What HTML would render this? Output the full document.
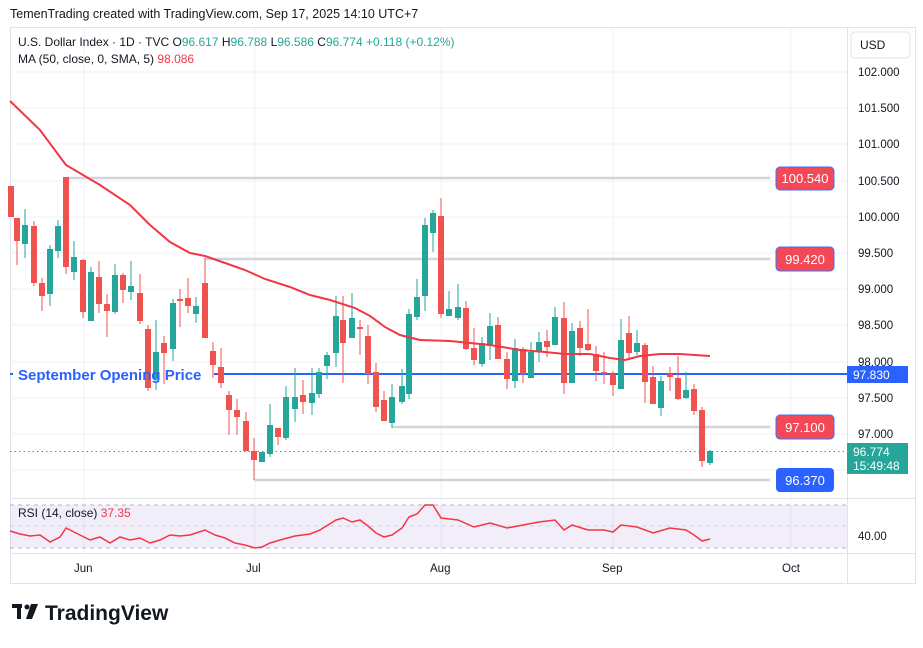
<!DOCTYPE html>
<html><head><meta charset="utf-8"><style>
body{margin:0;background:#fff;width:923px;height:643px;overflow:hidden;font-family:"Liberation Sans",sans-serif}
</style></head><body>
<svg width="923" height="643" xmlns="http://www.w3.org/2000/svg" font-family="Liberation Sans, sans-serif">
<text x="10" y="18" font-size="12.5" fill="#131722">TemenTrading created with TradingView.com, Sep 17, 2025 14:10 UTC+7</text>
<rect x="10.5" y="27.5" width="905" height="556" fill="none" stroke="#e0e3eb"/>
<line x1="847.5" y1="27" x2="847.5" y2="583" stroke="#e0e3eb"/>
<line x1="10" y1="498.5" x2="915" y2="498.5" stroke="#e0e3eb"/>
<line x1="10" y1="553.5" x2="915" y2="553.5" stroke="#e0e3eb"/>
<g stroke="#f0f2f5">
<line x1="10" x2="847" y1="72" y2="72"/><line x1="10" x2="847" y1="108" y2="108"/><line x1="10" x2="847" y1="144" y2="144"/><line x1="10" x2="847" y1="181" y2="181"/><line x1="10" x2="847" y1="217" y2="217"/><line x1="10" x2="847" y1="253" y2="253"/><line x1="10" x2="847" y1="289" y2="289"/><line x1="10" x2="847" y1="325" y2="325"/><line x1="10" x2="847" y1="362" y2="362"/><line x1="10" x2="847" y1="398" y2="398"/><line x1="10" x2="847" y1="434" y2="434"/><line x1="10" x2="847" y1="470" y2="470"/>
<line x1="84" x2="84" y1="27" y2="553"/><line x1="255" x2="255" y1="27" y2="553"/><line x1="441" x2="441" y1="27" y2="553"/><line x1="613" x2="613" y1="27" y2="553"/><line x1="791" x2="791" y1="27" y2="553"/>
</g>
<g font-size="11.5" fill="#131722">
<text x="858" y="76">102.000</text><text x="858" y="112">101.500</text><text x="858" y="148">101.000</text><text x="858" y="185">100.500</text><text x="858" y="221">100.000</text><text x="858" y="257">99.500</text><text x="858" y="293">99.000</text><text x="858" y="329">98.500</text><text x="858" y="366">98.000</text><text x="858" y="402">97.500</text><text x="858" y="438">97.000</text>
<text x="858" y="540">40.00</text>
<text x="74" y="572">Jun</text><text x="246" y="572">Jul</text><text x="430" y="572">Aug</text><text x="602" y="572">Sep</text><text x="782" y="572">Oct</text>
</g>
<rect x="851" y="32" width="59" height="26" rx="4" fill="#fff" stroke="#e0e3eb"/>
<text x="860" y="49" font-size="12" fill="#131722">USD</text>
<g stroke="#d1d4dc" stroke-width="2.5">
<line x1="66" y1="178" x2="770" y2="178"/><line x1="205" y1="259" x2="770" y2="259"/><line x1="392" y1="427" x2="770" y2="427"/><line x1="254" y1="480" x2="770" y2="480"/>
</g>
<line x1="10" y1="451.5" x2="847" y2="451.5" stroke="#26a69a" stroke-dasharray="1.5,3"/>
<line x1="10" y1="374" x2="13" y2="374" stroke="#2962ff" stroke-width="2"/>
<line x1="214" y1="374" x2="847" y2="374" stroke="#2962ff" stroke-width="2"/>
<g id="c"></g>
<polyline fill="none" stroke="#f23645" stroke-width="2" points="10,101 40,130 66,165 100,185 130,205 150,225 170,242 190,253 205,256 225,263 245,270 265,279 290,287 310,295 330,300 355,308 370,316 385,327 400,335 420,340 450,341 470,343 490,345 520,350 545,352 565,354 590,354 610,358 625,360 640,356 660,354 680,354 710,356"/>
<text x="18" y="380" font-size="15" font-weight="bold" fill="#2962ff">September Opening Price</text>
<rect x="776" y="167" width="58" height="23" rx="4" fill="#f23645" opacity="0.9" stroke="#2962ff"/><text x="805" y="183" font-size="13" fill="#fff" text-anchor="middle">100.540</text>
<rect x="776" y="247" width="58" height="24" rx="4" fill="#f23645" opacity="0.9" stroke="#2962ff"/><text x="805" y="264" font-size="13" fill="#fff" text-anchor="middle">99.420</text>
<rect x="776" y="415" width="58" height="24" rx="4" fill="#f23645" opacity="0.9" stroke="#2962ff"/><text x="805" y="432" font-size="13" fill="#fff" text-anchor="middle">97.100</text>
<rect x="776" y="468" width="58" height="24" rx="4" fill="#2962ff"/><text x="805" y="485" font-size="13" fill="#fff" text-anchor="middle">96.370</text>
<rect x="847" y="366" width="61" height="17" fill="#2962ff"/><text x="853" y="379" font-size="12" fill="#fff">97.830</text>
<rect x="847" y="443" width="61" height="31" fill="#26a69a"/><text x="853" y="456" font-size="12" fill="#fff">96.774</text><text x="853" y="470" font-size="12" fill="#fff">15:49:48</text>
<rect x="10" y="505" width="837" height="43" fill="#7e57c2" opacity="0.1"/>
<g stroke="#b2b5be" stroke-dasharray="4,4"><line x1="10" x2="847" y1="505" y2="505"/><line x1="10" x2="847" y1="526" y2="526" stroke-opacity="0.5"/><line x1="10" x2="847" y1="548" y2="548"/></g>
<polyline fill="none" stroke="#f23645" stroke-width="1.5" points="10,531 20,534 30,536 40,535 50,542 60,537 66,528 80,535 90,540 100,537 110,543 120,537 130,540 140,538 150,543 160,540 170,535 180,536 190,535 205,530 215,535 225,538 235,543 245,545 255,548 262,547 270,543 280,540 295,536 310,534 320,530 336,520 343,518 352,522 360,520 368,526 376,533 384,537 392,535 402,528 409,517 417,514 425,505 433,505 441,518 458,520 474,527 490,523 507,528 523,525 539,522 555,520 564,530 572,525 588,530 604,530 613,532 621,525 637,527 653,533 670,528 686,530 694,535 702,541 710,539"/>
<text x="18" y="517" font-size="12" fill="#131722">RSI (14, close) <tspan fill="#f23645">37.35</tspan></text>
<text x="18" y="46" font-size="12" fill="#131722">U.S. Dollar Index · 1D · TVC  O<tspan fill="#26a69a">96.617</tspan> H<tspan fill="#26a69a">96.788</tspan> L<tspan fill="#26a69a">96.586</tspan> C<tspan fill="#26a69a">96.774 +0.118 (+0.12%)</tspan></text>
<text x="18" y="63" font-size="12" fill="#131722">MA (50, close, 0, SMA, 5) <tspan fill="#f23645">98.086</tspan></text>
<rect x="12" y="604" width="10" height="4" fill="#131722"/><rect x="17" y="604" width="4" height="15" fill="#131722"/><circle cx="27" cy="607" r="2.5" fill="#131722"/><polygon points="31,604 38,604 32,619 26,619" fill="#131722"/>
<text x="45" y="620" font-size="21" font-weight="bold" fill="#131722">TradingView</text>
</svg>
<script>
var d=[
[11,'r',186,217,186,217],
[17,'r',218,241,218,265],[25,'g',225,244,209,258],[34,'r',226,283,221,286],[42,'r',283,296,278,311],[50,'g',249,294,245,306],[58,'g',226,251,220,258],[66,'r',177,267,177,274],[74,'g',257,272,241,280],[83,'r',260,312,259,318],[91,'g',272,321,267,321],[99,'r',277,304,261,313],[107,'r',304,311,294,337],[115,'g',275,312,264,314],[123,'r',275,290,273,303],[131,'g',286,292,261,300],[140,'r',293,321,274,324],[148,'r',329,388,325,391],[156,'g',352,378,320,390],[164,'r',343,353,336,384],[173,'g',303,349,299,361],[180,'r',299,301,289,327],[188,'r',298,306,278,313],[196,'g',306,314,297,323],[205,'r',283,338,258,338],[213,'r',351,365,342,378],[221,'r',367,383,348,388],[229,'r',395,410,391,435],[237,'r',410,417,399,435],[246,'r',421,451,412,451],[254,'r',451,460,438,480],[262,'g',452,462,452,462],[270,'g',425,454,404,457],[278,'r',428,437,428,445],[286,'g',397,438,386,440],[295,'g',397,409,368,422],
[303,'r',395,402,380,414],[312,'g',393,403,368,415],[319,'g',372,394,368,398],[327,'g',355,366,352,379],[336,'g',316,353,296,367],[343,'r',320,343,296,383],[352,'g',318,338,293,338],[360,'r',327,329,320,355],[368,'r',336,374,325,384],[376,'r',372,407,363,412],[384,'r',400,421,391,421],[392,'g',397,423,384,428],[402,'g',386,402,369,404],[409,'g',314,394,309,399],[417,'g',297,317,279,320],[425,'g',225,296,218,311],[433,'g',213,233,210,252],[441,'r',216,314,198,318],[449,'g',309,316,291,316],[458,'g',307,318,284,320],[466,'r',308,349,301,350],[474,'r',348,360,328,365],[482,'g',343,364,337,367],[490,'g',326,346,313,360],[498,'r',325,359,317,359],[507,'r',359,379,352,389],[515,'g',348,381,339,388],[523,'r',349,374,347,383],[531,'g',352,378,342,378],[539,'g',342,352,332,362],[547,'r',341,347,330,357],[555,'g',317,345,307,345],[564,'r',318,383,302,394],[572,'g',331,383,323,383],
[580,'r',328,348,321,356],[588,'r',344,350,309,351],[596,'r',354,371,346,381],[604,'r',372,374,352,384],[613,'r',374,385,371,396],[621,'g',340,389,319,389],[629,'r',333,353,316,360],[637,'g',343,352,330,355],[645,'r',345,382,343,403],[653,'r',377,404,366,404],[661,'g',381,408,376,416],[670,'r',374,377,367,391],[678,'r',378,399,356,400],[686,'g',390,398,372,399],[694,'r',389,411,384,415],[702,'r',410,461,407,467],[710,'g',451,463,450,465]];
var s='';d.forEach(function(b){var c=b[1]=='r'?'#ef5350':'#26a69a';var x=b[0];s+='<line x1="'+x+'" x2="'+x+'" y1="'+b[4]+'" y2="'+b[5]+'" stroke="'+c+'" stroke-width="1"/>';var h=Math.max(2,b[3]-b[2]);s+='<rect x="'+(x-3)+'" y="'+b[2]+'" width="6" height="'+h+'" fill="'+c+'"/>';});
document.getElementById('c').innerHTML=s;
</script>
</body></html>
